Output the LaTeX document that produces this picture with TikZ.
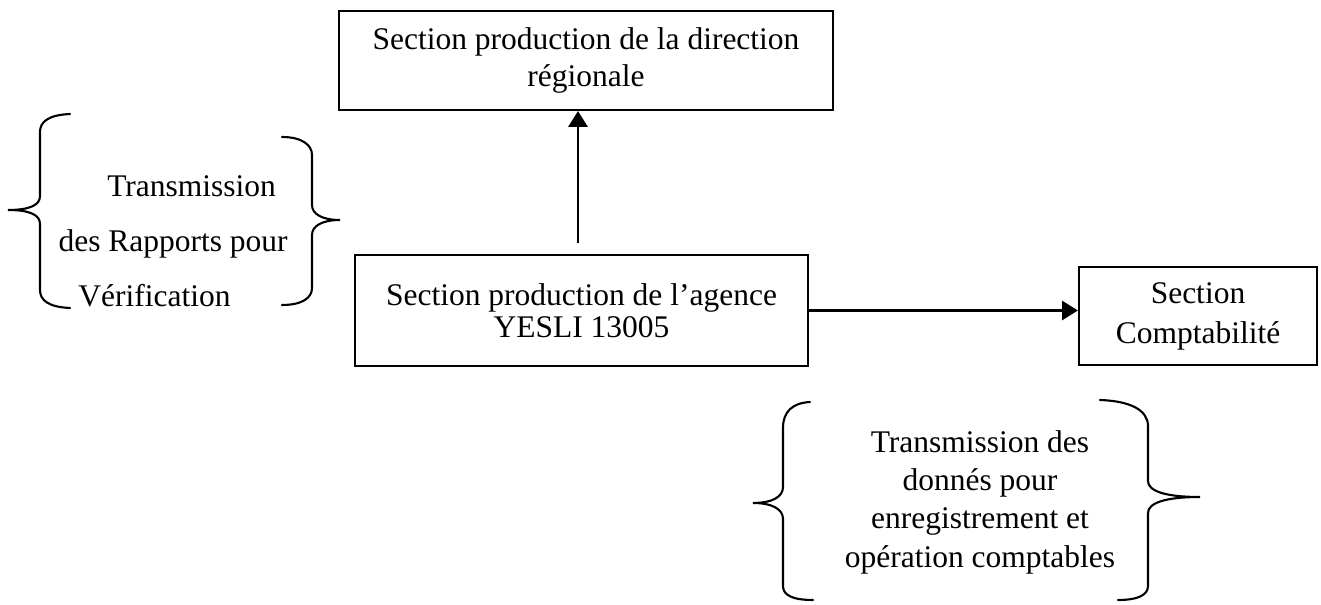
\documentclass[tikz,border=0pt]{standalone}
\usepackage{fontspec}
\setmainfont{Liberation Serif}
\usepackage{tikz}
\usetikzlibrary{arrows.meta}
\tikzset{
  box/.style={draw, line width=0.8pt, align=center, inner sep=0pt},
  note/.style={inner sep=0pt},
  arrow/.style={line width=1pt, -{Triangle[length=6pt,width=7.2pt]}},
  brace/.style={line width=0.8pt, line cap=round},
}

\begin{document}
\begin{tikzpicture}[x=0.381pt, y=-0.381pt]
        \useasboundingbox (0,0) rectangle (1321,605);

        % Boxes
        \node (regional) [box, minimum width=188.2pt, minimum height=37.7pt, font=\fontsize{12}{14}\selectfont] at (586,60.5) {Section production de la direction\\régionale};
        \node (agence) [box, minimum width=172.6pt, minimum height=42.3pt, font=\fontsize{12}{12.2}\selectfont] at (581.5,310.5) {Section production de l’agence\\YESLI 13005};
        \node (compta) [box, minimum width=90.7pt, minimum height=37.3pt, font=\fontsize{12}{15.2}\selectfont] at (1198,316) {Section\\Comptabilité};

        % Arrows
        \coordinate (upstart) at (578,243);
        \draw[arrow] (upstart) -- (upstart |- regional.south);
        \draw[arrow] (agence.east) -- (agence.east -| compta.west);

        % Notes between braces
        \node (rapports) [note, anchor=west, align=left, font=\fontsize{12}{21}\selectfont] at (58,241) {\hspace*{18.6pt}Transmission\\des Rapports pour\\\hspace*{7.6pt}Vérification};
        \node (donnees) [note, align=center, font=\fontsize{12}{14.6}\selectfont] at (980,502) {Transmission des\\donnés pour\\enregistrement et\\opération comptables};

        % Braces round the first note
        \draw[brace] (70,114) .. controls (48,115) and (40,122) .. (40,132) -- (40,196)
            .. controls (40,205) and (30,210) .. (8,210) .. controls (30,210) and (40,215) .. (40,224)
            -- (40,290) .. controls (40,300) and (48,307) .. (70,308);
        \draw[brace] (282,137) .. controls (302,137) and (312,145) .. (312,155) -- (312,205)
            .. controls (312,214) and (322,220) .. (340,220) .. controls (322,220) and (312,226) .. (312,235)
            -- (312,288) .. controls (312,298) and (302,305) .. (282,305);

        % Braces round the second note
        \draw[brace] (810,402) .. controls (792,403) and (783,412) .. (783,428) -- (783,487)
            .. controls (783,497) and (772,503) .. (753,503) .. controls (772,503) and (783,509) .. (783,519)
            -- (783,586) .. controls (783,595) and (792,600) .. (813,600);
        \draw[brace] (1100,400) .. controls (1130,401) and (1148,410) .. (1148,426) -- (1148,481)
            .. controls (1148,491) and (1165,497) .. (1200,497) .. controls (1165,497) and (1148,503) .. (1148,513)
            -- (1148,586) .. controls (1148,595) and (1138,600) .. (1118,600);

    \end{tikzpicture}
\end{document}
